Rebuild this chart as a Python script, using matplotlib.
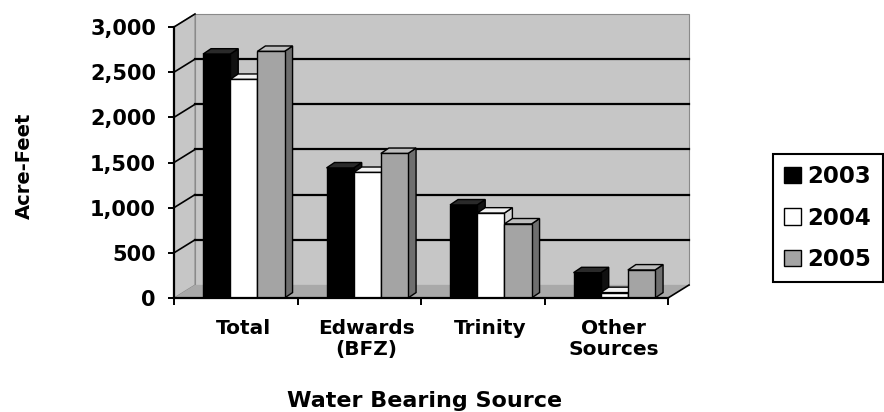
import numpy as np
import matplotlib
matplotlib.use("Agg")
import matplotlib.pyplot as plt
from matplotlib.patches import Polygon

# ---- data ----
categories = ["Total", "Edwards\n(BFZ)", "Trinity", "Other\nSources"]
years = ["2003", "2004", "2005"]
v2003 = [2700, 1440, 1030, 280]
v2004 = [2420, 1390, 940, 60]
v2005 = [2730, 1600, 820, 310]
yticks = [0, 500, 1000, 1500, 2000, 2500, 3000]
ytick_labels = ["0", "500", "1,000", "1,500", "2,000", "2,500", "3,000"]
ylabel = "Acre-Feet"
xlabel = "Water Bearing Source"

# ---- style ----
W, H = 884, 412
plt.rcParams['font.family'] = ['DejaVu Sans']
plt.rcParams['font.weight'] = 'bold'
front_cols = ["#000000", "#ffffff", "#a4a4a4"]
side_cols = ["#111111", "#d8d8d8", "#6e6e6e"]
top_cols = ["#2a2a2a", "#f2f2f2", "#bdbdbd"]
wall_col = "#c6c6c6"
floor_col = "#a9a9a9"

fig = plt.figure(figsize=(W / 100, H / 100), dpi=100)
fig.patch.set_facecolor("white")

def axrect(l, t, r, b):
    return [l / W, (H - b) / H, (r - l) / W, (b - t) / H]

ax = fig.add_axes(axrect(174, 27, 668, 298))
ax.set_xlim(-0.5, 3.5)
ax.set_ylim(0, 3000)
ax.set_facecolor("none")

# depth offsets (data units)
DX, DY = 0.17, 144      # wall depth
BDX, BDY = 0.065, 60    # bar depth
x0, x1 = -0.5, 3.5
ytop = yticks[-1]

# back wall
ax.add_patch(Polygon([(x0 + DX, DY), (x1 + DX, DY), (x1 + DX, ytop + DY), (x0 + DX, ytop + DY)],
                     closed=True, facecolor=wall_col, edgecolor="#8a8a8a", lw=0.8, zorder=0, clip_on=False))
# left side wall
ax.add_patch(Polygon([(x0, 0), (x0 + DX, DY), (x0 + DX, ytop + DY), (x0, ytop)],
                     closed=True, facecolor=wall_col, edgecolor="#8a8a8a", lw=0.8, zorder=0, clip_on=False))
# floor
ax.add_patch(Polygon([(x0, 0), (x1, 0), (x1 + DX, DY), (x0 + DX, DY)],
                     closed=True, facecolor=floor_col, edgecolor="none", zorder=0.5, clip_on=False))
ax.plot([x1, x1 + DX], [0, DY], color="black", lw=1.2, zorder=1, clip_on=False)

# gridlines on back wall and side wall
for v in yticks[1:-1]:
    ax.plot([x0 + DX, x1 + DX], [v + DY, v + DY], color="black", lw=1.6, zorder=1, clip_on=False)
for v in yticks[1:]:
    ax.plot([x0, x0 + DX], [v, v + DY], color="black", lw=1.2, zorder=1, clip_on=False)

# bars
x = np.arange(len(categories))
bw = 0.22
shift = 0.065
series = [v2003, v2004, v2005]
handles = []
for j, vals in enumerate(series):
    bars = ax.bar(x + shift + (j - 1) * bw, vals, width=bw, color=front_cols[j],
                  edgecolor="black", linewidth=1.0, zorder=3 + 2 * j, label=years[j])
    handles.append(bars)
    for p in bars.patches:
        bx, by = p.get_x(), p.get_height()
        w = p.get_width()
        # right side face
        ax.add_patch(Polygon([(bx + w, 0), (bx + w + BDX, BDY), (bx + w + BDX, by + BDY), (bx + w, by)],
                             closed=True, facecolor=side_cols[j], edgecolor="black", lw=1.0,
                             zorder=2 + 2 * j, clip_on=False))
        # top face
        ax.add_patch(Polygon([(bx, by), (bx + BDX, by + BDY), (bx + w + BDX, by + BDY), (bx + w, by)],
                             closed=True, facecolor=top_cols[j], edgecolor="black", lw=1.0,
                             zorder=2 + 2 * j, clip_on=False))

# axes styling
for s in ["top", "right"]:
    ax.spines[s].set_visible(False)
for s in ["left", "bottom"]:
    ax.spines[s].set_linewidth(1.6)
    ax.spines[s].set_zorder(10)
ax.set_yticks(yticks)
ax.set_yticklabels(ytick_labels, fontsize=15, fontweight="bold")
ax.tick_params(axis="y", length=4, width=1.4, pad=9, direction="out")
ax.set_xticks(np.arange(len(categories) + 1) - 0.5)
ax.set_xticklabels([])
ax.tick_params(axis="x", which="major", length=5, width=1.4, direction="out")
ax.set_xticks(x + 0.06, minor=True)
ax.set_xticklabels(categories, minor=True, fontsize=14.5, fontweight="bold", linespacing=1.15)
ax.tick_params(axis="x", which="minor", length=0, pad=15)

fig.text(24 / W, (H - 166) / H, ylabel, rotation=90, ha="center", va="center",
         fontsize=14, fontweight="bold")
fig.text(425 / W, (H - 407) / H, xlabel, ha="center", va="baseline",
         fontsize=16, fontweight="bold")

leg = fig.legend(handles=[h.patches[0] for h in handles], labels=years,
                 loc="center left", bbox_to_anchor=(773 / W, (H - 218) / H),
                 frameon=True, fancybox=False, edgecolor="black", framealpha=1,
                 prop={"size": 16.5, "weight": "bold"}, handlelength=0.7, handleheight=0.7,
                 handletextpad=0.3, labelspacing=0.8, borderpad=0.5, borderaxespad=0)
leg.get_frame().set_linewidth(1.5)

fig.savefig("out.png", dpi=100, facecolor="white")
